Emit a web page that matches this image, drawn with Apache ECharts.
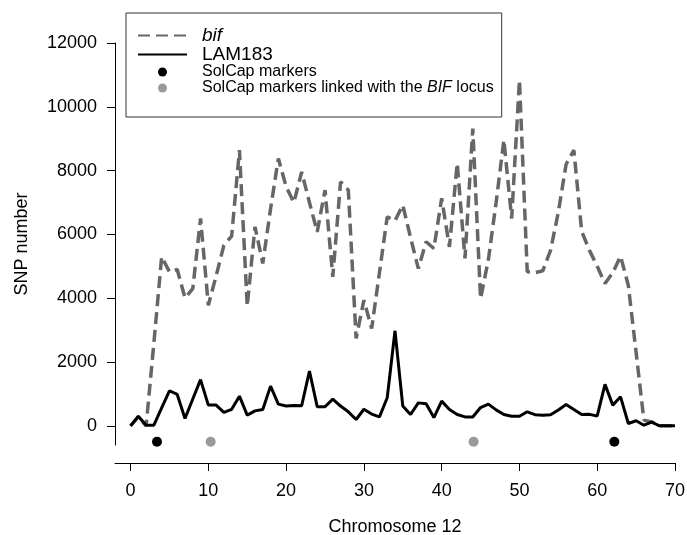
<!DOCTYPE html>
<html>
<head>
<meta charset="utf-8">
<script src="https://cdn.jsdelivr.net/npm/echarts@6/dist/echarts.min.js"></script>
<style>
    html, body { margin: 0; padding: 0; background: #fff; }
    #chart { width: 687px; height: 535px; }
</style>
</head>
<body>
<div id="chart"></div>
<script>
// chromosome position (Mb)
var chromPos = [0, 1, 2, 3, 4, 5, 6, 7, 8, 9, 10, 11, 12, 13, 14, 15, 16, 17, 18, 19,
    20, 21, 22, 23, 24, 25, 26, 27, 28, 29, 30, 31, 32, 33, 34, 35, 36, 37, 38, 39,
    40, 41, 42, 43, 44, 45, 46, 47, 48, 49, 50, 51, 52, 53, 54, 55, 56, 57, 58, 59,
    60, 61, 62, 63, 64, 65, 66, 67, 68, 69, 70];

var bifSnps = [0, 280, 0, 2600, 5300, 4830, 4900, 4010, 4300, 6500,
    3780, 4700, 5660, 5950, 8640, 3750, 6240, 5090, 6800, 8380,
    7500, 7000, 7960, 7000, 6080, 7390, 4670, 7650, 7390, 2740,
    3940, 3050, 4800, 6550, 6430, 6920, 5900, 4930, 5770, 5560,
    7130, 5610, 8230, 5250, 9320, 3990, 5200, 7000, 8960, 6500,
    10840, 4830, 4800, 4860, 5500, 6700, 8200, 8640, 6100, 5500,
    5000, 4460, 4800, 5320, 4400, 2300, 180, 125, 0, 0, 0];

var lamSnps = [0, 300, 20, 20, 560, 1100, 985, 230, 840, 1450,
    650, 650, 420, 520, 930, 335, 470, 510, 1245, 680,
    620, 640, 630, 1720, 600, 600, 840, 620, 440, 200,
    520, 370, 280, 880, 2980, 620, 355, 720, 690, 260,
    775, 510, 355, 280, 280, 575, 680, 500, 355, 300,
    300, 440, 350, 330, 350, 500, 670, 510, 355, 360,
    310, 1300, 650, 910, 75, 160, 20, 120, 0, 0, 0];

var solcapPos = [3.4, 62.2];
var linkedPos = [10.3, 44.1];
var markerRow = -500;

var yTicks = [0, 2000, 4000, 6000, 8000, 10000, 12000];
var xTicks = [0, 10, 20, 30, 40, 50, 60, 70];

var FONT = "'Liberation Sans', Arial, sans-serif";

var pairs = function (xs, ys) {
    var out = [];
    for (var i = 0; i < xs.length; i++) {
        out.push([xs[i], ys[i]]);
    }
    return out;
};
var markerPts = function (xs) {
    var out = [];
    for (var i = 0; i < xs.length; i++) {
        out.push([xs[i], markerRow]);
    }
    return out;
};
var plain = function (v) { return String(v); };

// hide the little symbol the line legend icon puts in the middle
var noSymbol = { color: 'rgba(0,0,0,0)', borderWidth: 0, opacity: 0 };

var myChart = echarts.init(document.getElementById('chart'), null, { renderer: 'canvas' });

var option = {
    animation: false,
    backgroundColor: '#fff',
    textStyle: { fontFamily: FONT },
    grid: { left: 115, right: 12, top: 43, bottom: 90, outerBoundsMode: 'none', containLabel: false },
    legend: {
        orient: 'vertical',
        left: 126,
        top: 13,
        padding: [13, 8, 21, 11],
        itemGap: 0,
        itemWidth: 49,
        itemHeight: 9,
        borderColor: '#333',
        borderWidth: 1,
        data: [
            { name: 'bif', itemStyle: noSymbol },
            { name: 'LAM183', itemStyle: noSymbol },
            { name: 'SolCap markers', icon: 'circle' },
            { name: 'linked', icon: 'circle' }
        ],
        formatter: function (name) {
            if (name === 'bif') return '{it|bif}';
            if (name === 'LAM183') return '{big|LAM183}';
            if (name === 'SolCap markers') return '{sm|SolCap markers}';
            return '{sm|SolCap markers linked with the }{smi|BIF}{sm| locus}';
        },
        textStyle: {
            color: '#000',
            fontFamily: FONT,
            padding: [0, 0, 0, 10],
            rich: {
                it: { fontSize: 19, fontStyle: 'italic', lineHeight: 17, fontFamily: FONT, color: '#000' },
                big: { fontSize: 19, lineHeight: 17, fontFamily: FONT, color: '#000' },
                sm: { fontSize: 16, lineHeight: 17, fontFamily: FONT, color: '#000' },
                smi: { fontSize: 16, fontStyle: 'italic', lineHeight: 17, fontFamily: FONT, color: '#000' }
            }
        }
    },
    xAxis: {
        type: 'value',
        min: -2,
        max: 70,
        offset: 18,
        name: 'Chromosome 12',
        nameLocation: 'middle',
        nameGap: 55,
        nameTextStyle: { fontSize: 18, color: '#000', fontFamily: FONT },
        axisLine: { show: true, onZero: false, lineStyle: { color: '#000', width: 1 } },
        axisTick: { show: true, length: 8, customValues: xTicks, lineStyle: { color: '#000' } },
        axisLabel: { customValues: xTicks, formatter: plain, fontSize: 18, color: '#000', margin: 19, fontFamily: FONT },
        splitLine: { show: false }
    },
    yAxis: {
        type: 'value',
        min: -600,
        max: 12000,
        name: 'SNP number',
        nameLocation: 'middle',
        nameGap: 84,
        nameRotate: 90,
        nameTextStyle: { fontSize: 18, color: '#000', fontFamily: FONT },
        axisLine: { show: true, onZero: false, lineStyle: { color: '#000', width: 1 } },
        axisTick: { show: true, length: 8, customValues: yTicks, lineStyle: { color: '#000' } },
        axisLabel: { customValues: yTicks, formatter: plain, fontSize: 18, color: '#000', margin: 18, fontFamily: FONT },
        splitLine: { show: false }
    },
    series: [
        {
            name: 'bif',
            type: 'line',
            symbol: 'none',
            data: pairs(chromPos, bifSnps),
            color: '#666',
            lineStyle: { color: '#666', width: 3.5, type: [12, 6] },
            z: 2
        },
        {
            name: 'LAM183',
            type: 'line',
            symbol: 'none',
            data: pairs(chromPos, lamSnps),
            color: '#000',
            lineStyle: { color: '#000', width: 3 },
            z: 3
        },
        {
            name: 'SolCap markers',
            type: 'scatter',
            symbol: 'circle',
            symbolSize: 10,
            data: markerPts(solcapPos),
            itemStyle: { color: '#000', opacity: 1 },
            z: 4
        },
        {
            name: 'linked',
            type: 'scatter',
            symbol: 'circle',
            symbolSize: 10,
            data: markerPts(linkedPos),
            itemStyle: { color: '#9a9a9a', opacity: 1 },
            z: 4
        }
    ]
};

myChart.setOption(option);
window.onresize = myChart.resize;
</script>
</body>
</html>
